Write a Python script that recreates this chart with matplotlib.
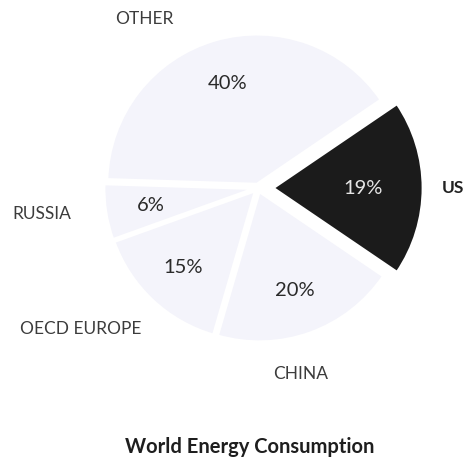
import numpy as np
import matplotlib
matplotlib.use("Agg")
from matplotlib import pyplot as plt

# data
regions = ["US", "OTHER", "RUSSIA", "OECD EUROPE", "CHINA"]
shares = [19, 40, 6, 15, 20]

# layout (pixels, y measured from top of the picture)
W, H = 470, 458
pie_center = (258, 188)
pie_radius = 150
explode = [15, 4, 4, 4, 4]          # pixels, pie() does not scale explode by radius
pct_dist = [0.6, 0.7, 0.7, 0.7, 0.7]
name_pos = [(453, 188), (144, 19), (42, 214), (81, 329), (301, 374)]
colors = ["#1b1b1b", "#f4f4fb", "#f4f4fb", "#f4f4fb", "#f4f4fb"]

plt.rcParams['font.family'] = ['Lato', 'DejaVu Sans']

fig = plt.figure(figsize=(W / 100, H / 100), dpi=100)
ax = fig.add_axes([0, 0, 1, 1])

start = -shares[0] / 100 * 360 / 2
wedges, _ = ax.pie(shares, colors=colors, startangle=start, counterclock=True,
                   explode=explode, radius=pie_radius,
                   center=(pie_center[0], H - pie_center[1]),
                   wedgeprops=dict(edgecolor="white", linewidth=2))

# percentage labels inside the wedges
for i, w in enumerate(wedges):
    mid = np.deg2rad((w.theta1 + w.theta2) / 2)
    r = explode[i] + pie_radius * pct_dist[i]
    x = pie_center[0] + r * np.cos(mid)
    y = H - pie_center[1] + r * np.sin(mid)
    ax.text(x, y, f"{shares[i]}%", ha="center", va="center", fontsize=14.5,
            color="#e6e6e6" if i == 0 else "#2a2a2a")

# region names outside the pie
for i, name in enumerate(regions):
    px, py = name_pos[i]
    ax.text(px, H - py, name, ha="center", va="center", fontsize=12.5,
            color="#222222" if i == 0 else "#3c3c3c",
            fontweight="bold" if i == 0 else "normal")

ax.text(250, H - 447, "World Energy Consumption", ha="center", va="center",
        fontsize=14.5, fontweight="bold", color="#1e1e1e")

ax.set_xlim(0, W)
ax.set_ylim(0, H)
ax.set_aspect("equal")
ax.axis("off")

fig.savefig("out.png", dpi=100, facecolor="white")
